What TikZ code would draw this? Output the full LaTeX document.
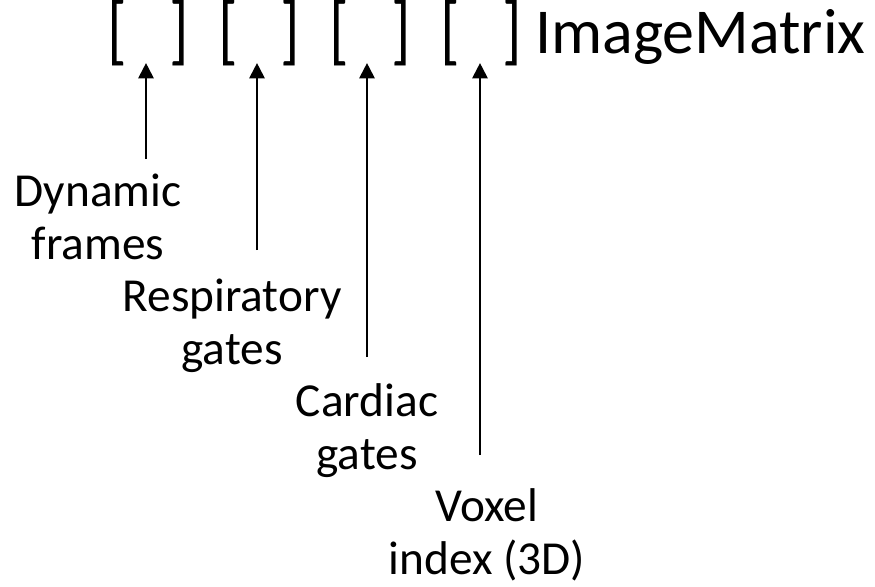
\documentclass[tikz,border=0pt]{standalone}
\usepackage{fontspec}
\setmainfont{Carlito}
\usetikzlibrary{arrows.meta}
% a slightly taller bracket for the index slots
\newcommand{\slotL}{\raisebox{-2pt}{\scalebox{1}[1.2]{[}}}
\newcommand{\slotR}{\raisebox{-2pt}{\scalebox{1}[1.2]{]}}}
\begin{document}
\begin{tikzpicture}[x=0.75pt,y=-0.75pt,
  toptext/.style={font=\fontsize{48}{58}\selectfont, inner sep=0pt, anchor=base},
  lab/.style={font=\fontsize{35.5}{39.4}\selectfont, align=center, inner sep=0pt, anchor=base},
  pointer/.style={line width=1.5pt, -{Triangle[length=11.5pt,width=11.5pt]}}]
\useasboundingbox (0,0) rectangle (875,586);

% index slots of the matrix
\node[toptext] (b1) at (148,53)   {\slotL\hspace{31.5pt}\slotR};
\node[toptext] (b2) at (259.5,53) {\slotL\hspace{31.5pt}\slotR};
\node[toptext] (b3) at (370.5,53) {\slotL\hspace{31.5pt}\slotR};
\node[toptext] (b4) at (481,53)   {\slotL\hspace{31.5pt}\slotR};
\node[toptext, anchor=base west] (name) at (535,53) {ImageMatrix};

% labels for each index (base = baseline of the last line)
\node[lab] (dyn)  at (98,259.5)  {Dynamic\\frames};
\node[lab] (resp) at (232,364.5) {Respiratory\\gates};
\node[lab] (card) at (367,469.5) {Cardiac\\gates};
\node[lab] (vox)  at (487,574.5) {Voxel\\index (3D)};

% arrow tails
\coordinate (t1) at (146,159);
\coordinate (t2) at (257,250);
\coordinate (t3) at (367,357);
\coordinate (t4) at (480,455);

\draw[pointer] (t1) -- ([yshift=2.5pt]b1.south -| t1);
\draw[pointer] (t2) -- ([yshift=2.5pt]b2.south -| t2);
\draw[pointer] (t3) -- ([yshift=2.5pt]b3.south -| t3);
\draw[pointer] (t4) -- ([yshift=2.5pt]b4.south -| t4);
\end{tikzpicture}
\end{document}
